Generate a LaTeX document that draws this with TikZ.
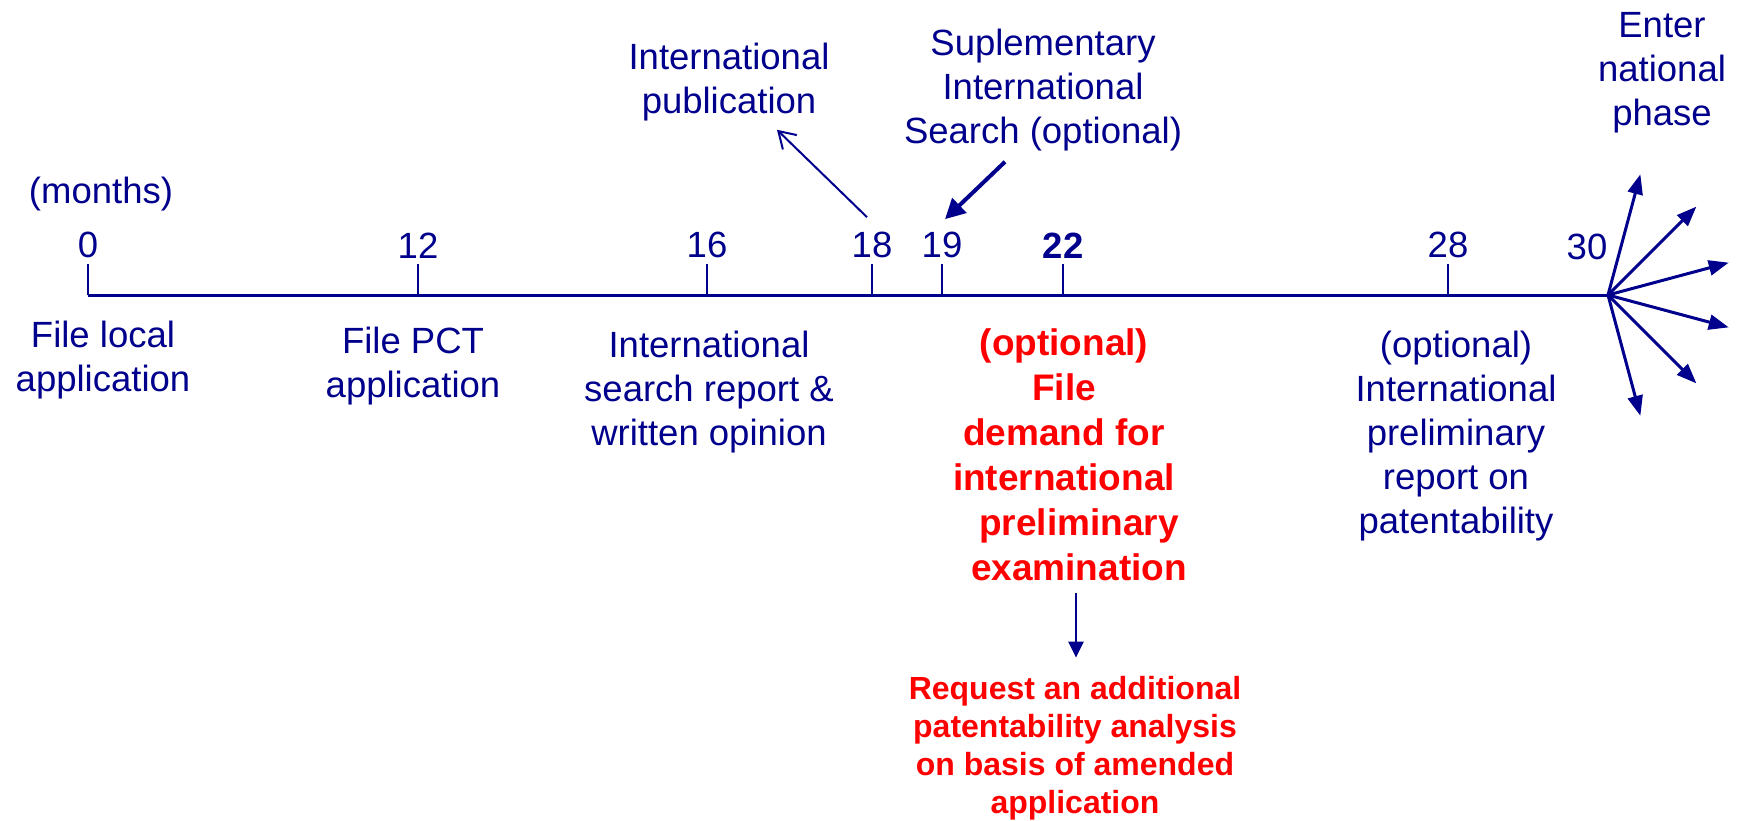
\documentclass[tikz,border=0pt]{standalone}
\usepackage{fontspec}
\setmainfont{Liberation Sans}
\usetikzlibrary{arrows.meta,positioning}
\definecolor{pctnavy}{RGB}{0,0,140}
\definecolor{pctred}{RGB}{255,0,0}
\tikzset{
  axisln/.style={line width=3pt,color=pctnavy},
  tickln/.style={line width=2pt,color=pctnavy},
  monthlbl/.style={text=pctnavy,font=\fontsize{36.5}{44}\selectfont,inner sep=5pt},
  eventtxt/.style={text=pctnavy,font=\fontsize{36.5}{44}\selectfont,align=center,inner sep=0pt,anchor=base},
  redtxt/.style={text=pctred,font=\fontsize{37}{45}\selectfont\bfseries,align=center,inner sep=0pt,anchor=base},
  reqtxt/.style={text=pctred,font=\fontsize{32}{38}\selectfont\bfseries,align=center,inner sep=0pt,anchor=base},
  pubarr/.style={-{Straight Barb[length=16pt,width=20pt,line width=2pt]},line width=2pt,color=pctnavy},
  suparr/.style={-{Triangle[length=20pt,width=20pt]},line width=4pt,color=pctnavy},
  fanarr/.style={-{Triangle[length=20pt,width=15pt]},line width=3pt,color=pctnavy},
  downarr/.style={-{Triangle[length=16pt,width=15pt]},line width=2.5pt,color=pctnavy}
}

\begin{document}
\begin{tikzpicture}[x=1pt,y=-1pt]
  \useasboundingbox (0,0) rectangle (1742,820);
  \coordinate (start) at (88,295);
  \coordinate (end) at (1608,295);
  \draw[axisln] (start) -- (end);

  % months on the time line
  \node[eventtxt] (unit) at (101,203) {(months)};
  \foreach \m/\px in {0/88,12/418,16/707,18/872,19/942,28/1448}
    \draw[tickln] (\px,295) -- (\px,264) node[monthlbl,above] (m\m) {\m};
  \draw[tickln] (1063,295) -- (1063,264)
    node[monthlbl,above,font=\fontsize{36.5}{44}\selectfont\bfseries] (m22) {22};
  \node[monthlbl,anchor=base,inner sep=0pt] (m30) at (1587,259) {30};

  % events (placed by the baseline of their last line)
  \node[eventtxt] (local) at (103,391) {File local\\application};
  \node[eventtxt] (pct) at (413,397) {File PCT\\application};
  \node[eventtxt] (isr) at (709,445) {International\\search report \&\\written opinion};
  \node[eventtxt] (pub) at (729,113) {International\\publication};
  \node[eventtxt] (sis) at (1043,143) {Suplementary\\International\\Search (optional)};
  \node[eventtxt] (iprp) at (1456,533) {(optional)\\International\\preliminary\\report on\\patentability};
  \node[eventtxt] (natl) at (1662,125) {Enter\\national\\phase};
  \node[redtxt] (demand) at (1064,580) {(optional)\\File\\demand for\\international\\
    \hspace*{30pt}preliminary\\\hspace*{30pt}examination};
  \node[reqtxt] (req) at (1075,813) {Request an additional\\patentability analysis\\
    on basis of amended\\application};

  \draw[pubarr] ([shift={(-5,-9)}]m18.north) -- ([shift={(48,9)}]pub.south);
  \draw[suparr] ([shift={(-38,11)}]sis.south) -- ([shift={(3,-7)}]m19.north);
  \draw[downarr] ([shift={(12,12)}]demand.south) -- ([shift={(1,-18)}]req.north);
  \foreach \ang in {75,45,15,-15,-45,-75}
    \draw[fanarr] (end) -- ++(\ang:125);
\end{tikzpicture}
\end{document}
